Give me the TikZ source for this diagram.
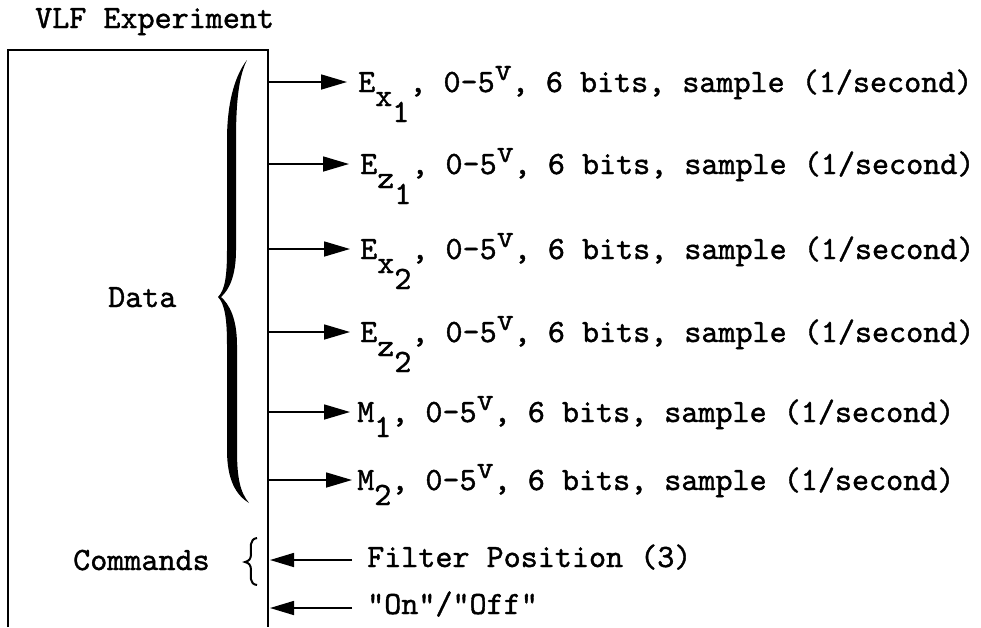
\documentclass[tikz,border=0pt]{standalone}
\usepackage{fontspec}
\setmonofont{lmmono10-regular.otf}[FakeBold=1.2]
\usetikzlibrary{arrows.meta}
\newcommand\lowr[2]{\raisebox{-#1}{#2}}
\begin{document}
\begin{tikzpicture}[x=1pt,y=-1pt,
  font=\fontsize{32.5}{34}\selectfont\ttfamily,
  txt/.style={anchor=base west, inner sep=0pt},
  outarr/.style={-{Triangle[length=26pt,width=15pt]}, line width=1.6pt},
  inarr/.style={-{Triangle[length=24pt,width=14pt]}, line width=1.6pt},
  boxline/.style={line width=2.8pt}]
\useasboundingbox (0,0) rectangle (981,627);

% title
\node[txt] (title) at (35,28) {VLF Experiment};

% box (open at the bottom)
\draw[boxline] (8,627) -- (8,50) -- (268,50) -- (268,627);

% big data brace
\fill (247,60) .. controls (236,74) and (227,100) .. (227,140)
  -- (227,250) .. controls (227,276) and (225,290) .. (218,297)
  .. controls (225,304) and (227,320) .. (227,345)
  -- (227,450) .. controls (227,480) and (236,495) .. (249,503)
  .. controls (240,492) and (237,478) .. (237,450)
  -- (237,345) .. controls (237,318) and (229,304) .. (221,297)
  .. controls (229,290) and (236,276) .. (236,250)
  -- (236,140) .. controls (236,100) and (239,76) .. (247,60) -- cycle;

% small commands brace
\draw[line width=2pt] (257,538) .. controls (249,539) and (251,548) .. (251,554)
  .. controls (251,559) and (249,561) .. (245,562)
  .. controls (249,563) and (251,565) .. (251,570)
  .. controls (251,576) and (249,584) .. (257,585);

\node[txt] (data) at (108,307) {Data};
\node[txt] (cmds) at (73,570) {Commands};

% arrow start points on the box edge and tips
\foreach \i/\y/\t in {1/82/347,2/164/349,3/249/350,4/332/350,5/412/350,6/480/352}{
  \coordinate (s\i) at (268,\y);
  \coordinate (e\i) at (\t,\y);
  \draw[outarr] (s\i) -- (e\i);
}

\node[txt] (r1) at (358,92) {E\lowr{14pt}{x}\lowr{30pt}{1}, 0-5\lowr{-12pt}{v}, 6 bits, sample (1/second)};
\node[txt] (r2) at (360,174) {E\lowr{14pt}{z}\lowr{30pt}{1}, 0-5\lowr{-12pt}{v}, 6 bits, sample (1/second)};
\node[txt] (r3) at (360,259) {E\lowr{14pt}{x}\lowr{30pt}{2}, 0-5\lowr{-12pt}{v}, 6 bits, sample (1/second)};
\node[txt] (r4) at (360,342) {E\lowr{14pt}{z}\lowr{30pt}{2}, 0-5\lowr{-12pt}{v}, 6 bits, sample (1/second)};
\node[txt] (r5) at (357,422) {M\lowr{15pt}{1}, 0-5\lowr{-12pt}{v}, 6 bits, sample (1/second)};
\node[txt] (r6) at (357,490) {M\lowr{15pt}{2}, 0-5\lowr{-12pt}{v}, 6 bits, sample (1/second)};

% command inputs
\coordinate (f0) at (352,560);
\coordinate (f1) at (270,560);
\coordinate (o0) at (352,608);
\coordinate (o1) at (270,608);
\draw[inarr] (f0) -- (f1);
\draw[inarr] (o0) -- (o1);
\node[txt] (filt) at (367,567) {Filter Position (3)};
\node[txt] (onoff) at (367,614) {"On"/"Off"};
\end{tikzpicture}
\end{document}
